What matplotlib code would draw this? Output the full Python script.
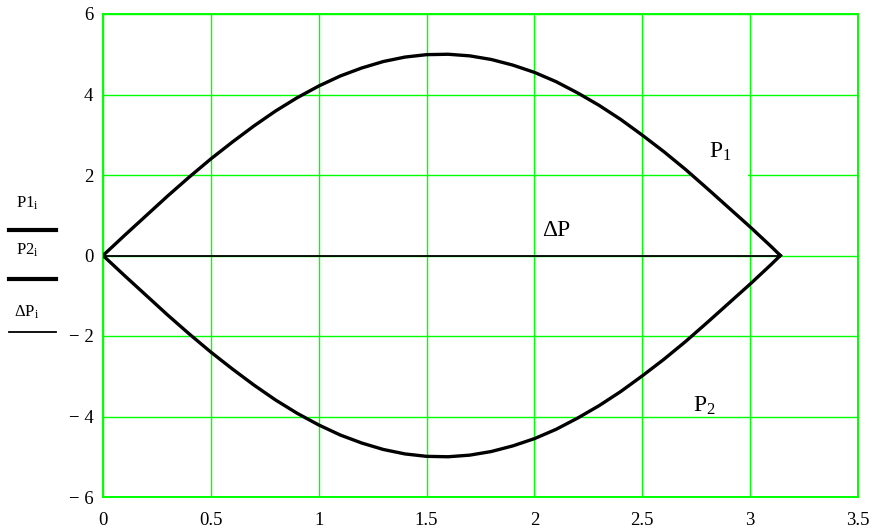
"""Power curves P1, P2 and their sum dP over one half period."""

import matplotlib

matplotlib.use("Agg")
import matplotlib.pyplot as plt
from matplotlib.lines import Line2D
from matplotlib.ticker import FuncFormatter, MultipleLocator

plt.rcParams["font.family"] = ["Liberation Serif", "DejaVu Serif"]
plt.rcParams["mathtext.fontset"] = "custom"
plt.rcParams["mathtext.rm"] = "Liberation Serif"
plt.rcParams["mathtext.it"] = "Liberation Serif"

# sampled angle (rad) and the two curves
x = [0.0, 0.1, 0.2, 0.3, 0.4, 0.5, 0.6, 0.7, 0.8, 0.9, 1.0, 1.1, 1.2, 1.3,
     1.4, 1.5, 1.6, 1.7, 1.8, 1.9, 2.0, 2.1, 2.2, 2.3, 2.4, 2.5, 2.6, 2.7,
     2.8, 2.9, 3.0, 3.1, 3.14]
p1 = [0.0, 0.50, 0.99, 1.48, 1.95, 2.40, 2.82, 3.22, 3.59, 3.92, 4.21, 4.46,
      4.66, 4.82, 4.93, 4.99, 5.00, 4.96, 4.87, 4.73, 4.55, 4.32, 4.04, 3.73,
      3.38, 2.99, 2.58, 2.14, 1.67, 1.19, 0.71, 0.21, 0.0]
p2 = [0.0, -0.50, -0.99, -1.48, -1.95, -2.40, -2.82, -3.22, -3.59, -3.92,
      -4.21, -4.46, -4.66, -4.82, -4.93, -4.99, -5.00, -4.96, -4.87, -4.73,
      -4.55, -4.32, -4.04, -3.73, -3.38, -2.99, -2.58, -2.14, -1.67, -1.19,
      -0.71, -0.21, 0.0]
dp_x = [0.0, 3.14]
dp = [0.0, 0.0]

GREEN = "#00ff00"

fig = plt.figure(figsize=(8.75, 5.30), dpi=100)
ax = fig.add_axes([103 / 875, 1 - 497 / 530, 755 / 875, 483 / 530])

ax.plot(x, p1, color="black", lw=2.4, zorder=4, solid_joinstyle="round")
ax.plot(x, p2, color="black", lw=2.4, zorder=4, solid_joinstyle="round")
ax.plot(dp_x, dp, color="black", lw=1.3, zorder=4)

ax.set_xlim(0, 3.5)
ax.set_ylim(-6, 6)
ax.xaxis.set_major_locator(MultipleLocator(0.5))
ax.yaxis.set_major_locator(MultipleLocator(2))


def fmt(v, _pos):
    s = f"{abs(v):g}"
    return f"\u2212 {s}" if v < 0 else s


ax.xaxis.set_major_formatter(FuncFormatter(fmt))
ax.yaxis.set_major_formatter(FuncFormatter(fmt))
ax.tick_params(length=0, labelsize=13.5)
ax.tick_params(axis="x", pad=11)
ax.tick_params(axis="y", pad=7)
ax.grid(True, color=GREEN, lw=1.0, zorder=1)
ax.set_axisbelow(True)
for sp in ax.spines.values():
    sp.set_color(GREEN)
    sp.set_linewidth(1.4)

# curve labels; P1 sits in an opaque box over the grid
ax.text(2.86, 2.42, r"$\mathrm{P_1}$", fontsize=17, ha="center",
        va="baseline", zorder=3,
        bbox=dict(boxstyle="square,pad=0.7", fc="white", ec="none"))
ax.text(2.79, -3.74, r"$\mathrm{P_2}$", fontsize=17, ha="center",
        va="center", zorder=3)
ax.text(2.10, 0.61, "\u0394P", fontsize=17, ha="center", va="center",
        zorder=3)

# trace key on the left
key = [(r"$\mathrm{P1_i}$", 203, 230, 3.0),
       (r"$\mathrm{P2_i}$", 250, 279, 3.0),
       (r"$\mathrm{\Delta P_i}$", 312, 332, 1.3)]
for label, ty, ly, lw in key:
    fig.text(27 / 875, 1 - ty / 530, label, fontsize=12, ha="center",
             va="center")
    fig.add_artist(Line2D([9 / 875, 56 / 875], [1 - ly / 530] * 2,
                          color="black", lw=lw, transform=fig.transFigure))

fig.savefig("out.png", dpi=100)
